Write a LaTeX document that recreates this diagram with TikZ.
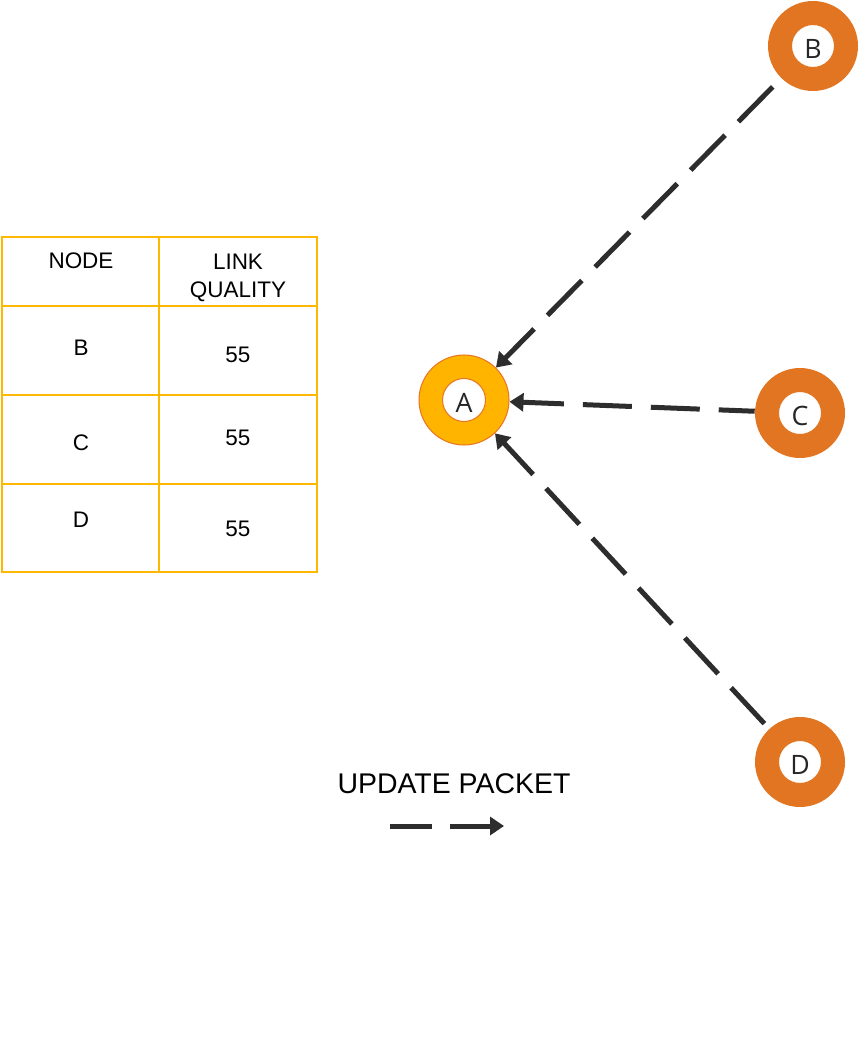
\documentclass[tikz,border=0pt]{standalone}
\usepackage{fontspec}
\setmainfont{Liberation Sans}
\newfontfamily\ringfont{Open Sans}
\usetikzlibrary{
    calc,
    arrows.meta,
    positioning
}
\definecolor{ringorange}{RGB}{225,117,33}
\definecolor{hubyellow}{RGB}{255,180,0}
\definecolor{hubedge}{RGB}{232,119,34}
\definecolor{tableline}{RGB}{255,184,0}
\definecolor{packetgray}{RGB}{45,45,45}

\begin{document}
\begin{tikzpicture}[
        x=0.02cm, y=-0.02cm,
        ring/.style={circle, inner sep=0pt, minimum size=1.8cm, fill=ringorange,
            text height=0.5cm, text depth=0pt, text=black!85,
            font=\ringfont\fontsize{15.2pt}{18pt}\selectfont,
            path picture={\filldraw[fill=white, draw=#1, line width=0.6pt]
                (path picture bounding box.center) circle (0.43cm);}},
        ring/.default=ringorange,
        hub/.style={ring=hubedge, fill=hubyellow, draw=hubedge, line width=0.6pt},
        packet/.style={packetgray, line width=0.1cm, dash pattern=on 0.98cm off 0.38cm,
            -{Triangle[length=0.28cm, width=0.36cm]}},
        table line/.style={draw=tableline, line width=1.5pt},
        cell/.style={anchor=base, inner sep=0pt, align=center,
            font=\fontsize{12.8pt}{15.4pt}\selectfont}
    ]
    \useasboundingbox (0,0) rectangle (859,1057);

    % link quality table
    \draw[table line] (2,237) rectangle (317,572);
    \draw[table line] (159,237) -- (159,572);
    \foreach \y in {306,395,484} {
        \draw[table line] (2,\y) -- (317,\y);
    }
    \node[cell] (head node) at (81,269) {NODE};
    \node[cell] (head quality) at (238,297) {LINK\\QUALITY};
    \foreach \n/\y/\qy in {B/355/362, C/450/445, D/527/536} {
        \node[cell] (row \n) at (81,\y) {\n};
        \node[cell] (quality \n) at (238,\qy) {55};
    }

    \node[hub] (A) at (464,400) {A};
    \node[ring] (B) at (813,46) {B};
    \node[ring] (C) at (800,413) {C};
    \node[ring] (D) at (800,762) {D};

    \draw[packet, shorten <=0.24cm] (B) -- (A);
    \draw[packet, dash phase=0.26cm] (C) -- (A);
    \draw[packet, shorten <=0.14cm] (D) -- (A);

    % legend
    \node[anchor=base, inner sep=0pt, font=\fontsize{16.2pt}{19pt}\selectfont]
        (legend) at (454,793) {UPDATE PACKET};
    \coordinate (key start) at (390,826);
    \coordinate (key end) at (504,826);
    \draw[packet, dash pattern=on 0.84cm off 0.36cm on 2cm off 0cm] (key start) -- (key end);
\end{tikzpicture}
\end{document}
